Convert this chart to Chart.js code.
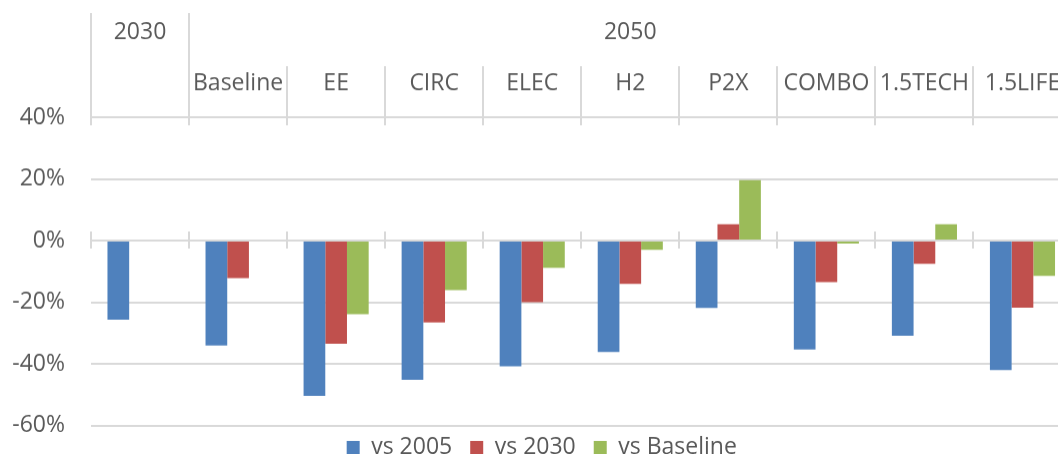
<!DOCTYPE html>
<html>

<head>
    <title>Emission change by scenario</title>
    <script src="https://cdn.jsdelivr.net/npm/chart.js@4"></script>
    <style>
        html, body { margin: 0; padding: 0; overflow: hidden; background: #fff; }
        #wrap { position: relative; width: 1084px; height: 475.5px; }
    </style>
</head>

<body>
    <div id="wrap"><canvas id="chart"></canvas></div>
    <script>
        // header rows: period groups and scenarios under them
        const groupLabels = ['2030', '2050'];
        const groupSizes = [1, 9];
        const categories = ['', 'Baseline', 'EE', 'CIRC', 'ELEC', 'H2', 'P2X', 'COMBO', '1.5TECH', '1.5LIFE'];

        // values in percent
        const vs2005 = [-25.7, -34.1, -50.4, -45.2, -40.8, -36.2, -21.9, -35.4, -30.9, -42.0];
        const vs2030 = [null, -12.2, -33.5, -26.6, -20.0, -14.1, 5.3, -13.5, -7.6, -21.8];
        const vsBaseline = [null, null, -23.9, -16.1, -8.9, -3.0, 19.6, -1.0, 5.3, -11.5];

        const yMin = -60, yMax = 40, yStep = 20;

        const gridColor = '#d9d9d9';
        const textColor = '#595959';
        const fontFamily = "'Open Sans', sans-serif";

        Chart.defaults.font.family = fontFamily;
        Chart.defaults.font.size = 23;
        Chart.defaults.color = textColor;

        // draws the two header rows, their separators and the ticks crossing the 0% line
        const headerPlugin = {
            id: 'header',
            afterLayout(chart) {
                // nudge the legend so it sits where the original one did
                chart.legend.top -= 7.5;
                chart.legend.bottom -= 7.5;
                chart.legend.left += 6;
                chart.legend.right += 6;
            },
            beforeDatasetsDraw(chart) {
                const { ctx, chartArea } = chart;
                const x = chart.scales.x, y = chart.scales.y;
                const half = (x.getPixelForValue(1) - x.getPixelForValue(0)) / 2;
                const edge = (i) => x.getPixelForValue(i) - half;
                const zero = y.getPixelForValue(0);

                const groupStarts = [0];
                groupSizes.forEach((n, k) => groupStarts.push(groupStarts[k] + n));

                ctx.save();
                ctx.strokeStyle = gridColor;
                ctx.lineWidth = 2;
                const line = (px, y1, y2) => {
                    ctx.beginPath();
                    ctx.moveTo(px, y1);
                    ctx.lineTo(px, y2);
                    ctx.stroke();
                };
                for (let i = 0; i <= categories.length; i++) {
                    const px = Math.round(edge(i));
                    line(px, groupStarts.includes(i) ? 13 : 66, chartArea.top + 8);
                    line(px, zero - 9, zero + 8);
                }

                ctx.fillStyle = textColor;
                ctx.font = '23px ' + fontFamily;
                ctx.textAlign = 'center';
                ctx.textBaseline = 'middle';
                categories.forEach((c, i) => ctx.fillText(c, x.getPixelForValue(i), 83));
                groupLabels.forEach((g, k) => {
                    const cx = (edge(groupStarts[k]) + edge(groupStarts[k + 1])) / 2;
                    ctx.fillText(g, cx, 32);
                });
                ctx.restore();
            }
        };

        const canvas = document.getElementById('chart');

        const chart = new Chart(canvas, {
            type: 'bar',
            data: {
                labels: categories,
                datasets: [
                    { label: 'vs 2005', data: vs2005, backgroundColor: '#4F81BD' },
                    { label: 'vs 2030', data: vs2030, backgroundColor: '#C0504D' },
                    { label: 'vs Baseline', data: vsBaseline, backgroundColor: '#9BBB59' },
                ],
            },
            options: {
                responsive: true,
                maintainAspectRatio: false,
                animation: false,
                categoryPercentage: 0.664,
                barPercentage: 1,
                layout: {
                    padding: { top: 117, right: 12.5, left: 0, bottom: 0 },
                },
                scales: {
                    x: {
                        display: false,
                    },
                    y: {
                        min: yMin,
                        max: yMax,
                        afterFit: (scale) => { scale.width = 91; },
                        ticks: {
                            stepSize: yStep,
                            padding: 26,
                            color: textColor,
                            callback: (v) => v + '%',
                        },
                        grid: {
                            color: gridColor,
                            lineWidth: 2,
                            drawTicks: false,
                        },
                        border: { display: false },
                    },
                },
                plugins: {
                    legend: {
                        position: 'bottom',
                        labels: {
                            boxWidth: 13,
                            boxHeight: 13,
                            padding: 18,
                            color: textColor,
                        },
                    },
                    tooltip: { enabled: false },
                },
            },
            plugins: [headerPlugin],
        });
    </script>
</body>

</html>
